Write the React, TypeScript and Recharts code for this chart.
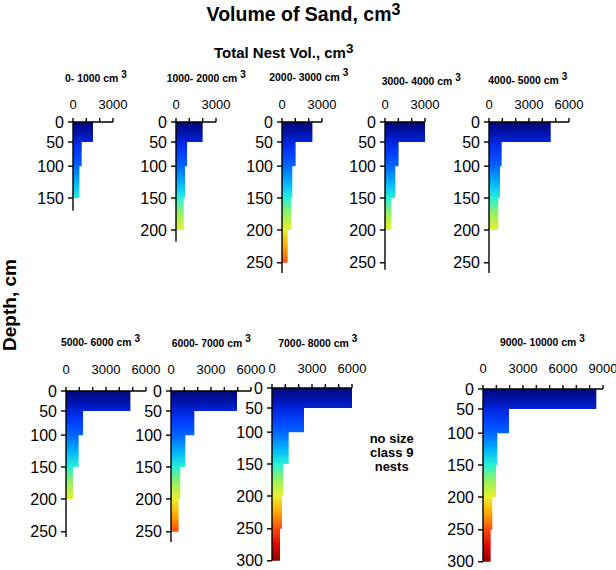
import React from 'react';
import { ComposedChart, Area, XAxis, YAxis } from 'recharts';

// depth bins (top of each 50 cm bin)
const binTops = [0, 50, 100, 150, 200, 250];
const BIN = 50;

// depth tick labels and their place along the (non-uniform) depth axis of the reference
const depthTickValues = [0, 50, 100, 150, 200, 250, 300];
const depthTickAxisPos = [0, 31.25, 69, 118.75, 168.75, 220, 270];

// volume of sand per 50 cm depth bin, cm3, for each total nest volume class
const vol0to1000 = [1500, 650, 480];
const vol1000to2000 = [2000, 830, 680, 580];
const vol2000to3000 = [2280, 1020, 775, 700, 420];
const vol3000to4000 = [3280, 1020, 775, 475];
const vol4000to5000 = [4630, 950, 830, 700];
const vol5000to6000 = [4830, 1280, 950, 525];
const vol6000to7000 = [4950, 1750, 1075, 700, 575];
const vol7000to8000 = [6150, 2400, 1250, 850, 750, 600];
const vol9000to10000 = [8500, 1950, 1075, 975, 700, 575];

const classLabels = [
  '0- 1000', '1000- 2000', '2000- 3000', '3000- 4000', '4000- 5000',
  '5000- 6000', '6000- 7000', '7000- 8000', '9000- 10000',
];
const classSeries = [
  vol0to1000, vol1000to2000, vol2000to3000, vol3000to4000, vol4000to5000,
  vol5000to6000, vol6000to7000, vol7000to8000, vol9000to10000,
];

// jet-like colour by depth
const colorStops: [number, string][] = [
  [0, '#00087a'], [25, '#0012a8'], [50, '#0024dc'], [75, '#0040ff'],
  [100, '#0066ff'], [125, '#00b0ff'], [150, '#28f0d8'], [175, '#98f060'],
  [200, '#e8f030'], [225, '#ffa800'], [250, '#ff4a10'], [275, '#e00800'],
  [300, '#8c0000'],
];

// layout (pixels)
const panelLayout = [
  { ox: 72.7, oy: 122.3, xMax: 3000, endDepth: 170, tx: 65, ty: 82, tm: 9 },
  { ox: 175.5, oy: 122.3, xMax: 3000, endDepth: 218, tx: 166.7, ty: 82, tm: 9 },
  { ox: 281.7, oy: 121.7, xMax: 3000, endDepth: 266, tx: 269.3, ty: 80.5, tm: 9 },
  { ox: 385.3, oy: 122, xMax: 3000, endDepth: 261, tx: 381.7, ty: 85, tm: 9 },
  { ox: 489, oy: 122, xMax: 6000, endDepth: 266, tx: 488.3, ty: 84, tm: 9 },
  { ox: 65.7, oy: 390.7, xMax: 6000, endDepth: 258, tx: 61, ty: 346, tm: 13 },
  { ox: 170.7, oy: 390.7, xMax: 6000, endDepth: 266, tx: 171.7, ty: 346.7, tm: 13 },
  { ox: 272.3, oy: 387.5, xMax: 6000, endDepth: 300, tx: 278.3, ty: 346.7, tm: 11 },
  { ox: 482.7, oy: 388.5, xMax: 9000, endDepth: 300, tx: 500, ty: 346, tm: 12 },
];

const PX_PER_1000 = 40 / 3;
const PX_PER_UNIT = 0.64;
const YW = 45;
const XH = 30;
const MR = 20;
const MB = 14;

function warp(d: number): number {
  for (let i = 1; i < depthTickValues.length; i++) {
    if (d <= depthTickValues[i]) {
      const a = depthTickValues[i - 1];
      const b = depthTickValues[i];
      const t = (d - a) / (b - a);
      return depthTickAxisPos[i - 1] + t * (depthTickAxisPos[i] - depthTickAxisPos[i - 1]);
    }
  }
  return depthTickAxisPos[depthTickAxisPos.length - 1];
}

function depthLabel(v: number): string {
  for (let i = 0; i < depthTickAxisPos.length; i++) {
    if (Math.abs(depthTickAxisPos[i] - v) < 0.01) return String(depthTickValues[i]);
  }
  return '';
}

function Panel({ idx }: { idx: number }) {
  const vols = classSeries[idx];
  const lay = panelLayout[idx];
  const rows = vols.map((v, i) => ({ depth: binTops[i], pos: warp(binTops[i]), vol: v }));
  const last = vols.length * BIN;
  rows.push({ depth: last, pos: warp(last), vol: vols[vols.length - 1] });

  const yEnd = warp(lay.endDepth);
  const plotH = yEnd * PX_PER_UNIT;
  const plotW = (lay.xMax / 1000) * PX_PER_1000;
  const width = YW + plotW + MR;
  const height = XH + plotH + MB;

  const xTicks: number[] = [];
  for (let v = 0; v <= lay.xMax; v += 1000) xTicks.push(v);
  const yTicks = depthTickAxisPos.filter((p, i) => depthTickValues[i] <= lay.endDepth);

  const dataEnd = warp(last);
  const stops = colorStops.filter(([d]) => d <= last);
  const gid = `depthGrad${idx}`;

  return (
    <div style={{ position: 'absolute', left: lay.ox - YW, top: lay.oy - XH }}>
      <ComposedChart
        layout="vertical"
        width={width}
        height={height}
        data={rows}
        margin={{ top: 0, right: MR, bottom: MB, left: 0 }}
      >
        <defs>
          <linearGradient id={gid} x1="0" y1="0" x2="0" y2="1">
            {stops.map(([d, c]) => (
              <stop key={d} offset={warp(d) / dataEnd} stopColor={c} />
            ))}
          </linearGradient>
        </defs>
        <XAxis
          type="number"
          orientation="top"
          domain={[0, lay.xMax]}
          allowDataOverflow
          ticks={xTicks}
          interval={0}
          tickFormatter={(v: number) => (v % 3000 === 0 ? String(v) : '')}
          height={XH}
          tick={{ fontSize: 13, fill: '#000' }}
          tickSize={4}
          tickMargin={lay.tm}
          axisLine={{ stroke: '#000', strokeWidth: 1.4 }}
          tickLine={{ stroke: '#000', strokeWidth: 1.4 }}
        />
        <YAxis
          type="number"
          dataKey="pos"
          domain={[0, yEnd]}
          ticks={yTicks}
          interval={0}
          tickFormatter={depthLabel}
          width={YW}
          tick={{ fontSize: 16, fill: '#000' }}
          tickSize={5}
          tickMargin={4}
          axisLine={{ stroke: '#000', strokeWidth: 1.4 }}
          tickLine={{ stroke: '#000', strokeWidth: 1.4 }}
        />
        <Area
          type="stepBefore"
          dataKey="vol"
          stroke="none"
          fill={`url(#${gid})`}
          fillOpacity={1}
          dot={false}
          activeDot={false}
          isAnimationActive={false}
        />
      </ComposedChart>
    </div>
  );
}

export default function App() {
  return (
    <div
      style={{
        position: 'absolute',
        left: 0,
        top: 0,
        width: 616,
        height: 570,
        background: '#fff',
        fontFamily: '"Liberation Sans", Arial, sans-serif',
        overflow: 'hidden',
      }}
    >
      <style>{'.recharts-area{clip-path:none !important;} .recharts-surface{overflow:visible;}'}</style>
      {classSeries.map((_, i) => (
        <Panel key={i} idx={i} />
      ))}
      <svg
        width={616}
        height={570}
        style={{ position: 'absolute', left: 0, top: 0, pointerEvents: 'none' }}
      >
        <text x={303.5} y={21} textAnchor="middle" fontWeight="bold" fontSize={19.5} fill="#000">
          Volume of Sand, cm
          <tspan fontSize={16} dy={-6}>3</tspan>
        </text>
        <text x={283.7} y={57.7} textAnchor="middle" fontWeight="bold" fontSize={15} fill="#000">
          Total Nest Vol., cm
          <tspan fontSize={13.5} dy={-4.5}>3</tspan>
        </text>
        {classLabels.map((lab, i) => (
          <text key={i} x={panelLayout[i].tx} y={panelLayout[i].ty} fontWeight="bold" fontSize={10.4} fill="#000">
            {lab} cm
            <tspan fontSize={10} dx={3} dy={-4.5}>3</tspan>
          </text>
        ))}
        <text
          x={16}
          y={305}
          transform="rotate(-90, 16, 305)"
          textAnchor="middle"
          fontWeight="bold"
          fontSize={19}
          fill="#000"
        >
          Depth, cm
        </text>
        <text textAnchor="middle" fontWeight="bold" fontSize={13} fill="#000">
          <tspan x={391.7} y={443.3}>no size</tspan>
          <tspan x={391.7} y={457.3}>class 9</tspan>
          <tspan x={391.7} y={471.3}>nests</tspan>
        </text>
      </svg>
    </div>
  );
}
